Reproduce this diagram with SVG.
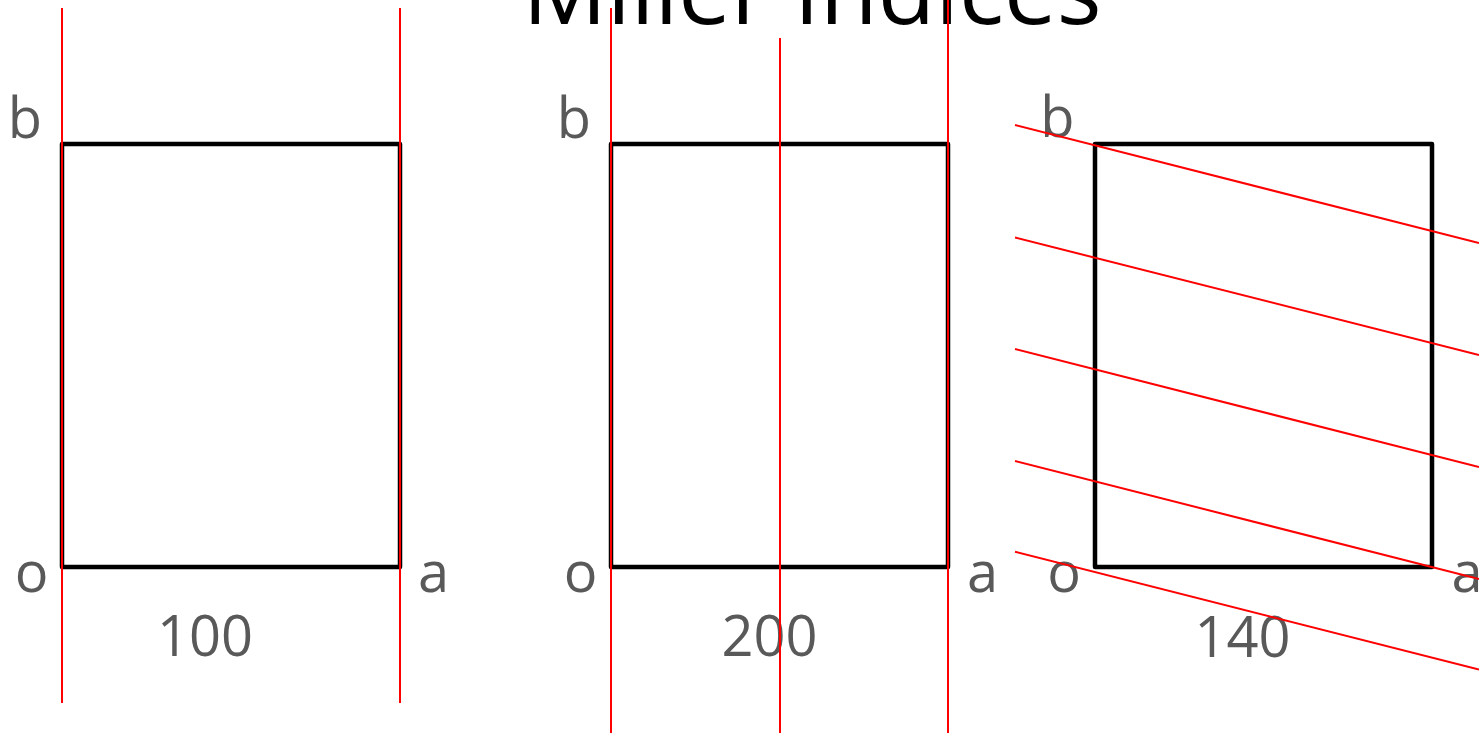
<svg xmlns="http://www.w3.org/2000/svg" width="1479" height="733" viewBox="0 0 1479 733">
<style>
.box{fill:none;stroke:#000;stroke-width:4.5;stroke-linejoin:round}
.red{stroke:#ff0000;stroke-width:2;fill:none}
.lbl{font-family:"Open Sans","Liberation Sans",sans-serif;font-size:56px;fill:#595959;text-anchor:middle}
.title{font-family:"Open Sans","Liberation Sans",sans-serif;font-size:94px;fill:#000;text-anchor:middle}
</style>
<rect width="1479" height="733" fill="#fff"/>
<text class="title" x="812" y="24">Miller Indices</text>
<g id="cell1">
<rect class="box" x="62" y="144" width="338" height="423"/>
<text class="lbl" x="25" y="138">b</text>
<text class="lbl" x="31.5" y="592">o</text>
<text class="lbl" x="433.5" y="592">a</text>
<text class="lbl" x="205" y="656">100</text>
</g>
<g id="cell2">
<rect class="box" x="611" y="144" width="337" height="423"/>
<text class="lbl" x="574" y="138">b</text>
<text class="lbl" x="580.5" y="592">o</text>
<text class="lbl" x="982.5" y="592">a</text>
<text class="lbl" x="769.5" y="656">200</text>
</g>
<g id="cell3">
<rect class="box" x="1095" y="144" width="337" height="423"/>
<text class="lbl" x="1057.5" y="137">b</text>
<text class="lbl" x="1064" y="592">o</text>
<text class="lbl" x="1467" y="592">a</text>
<text class="lbl" x="1242.5" y="657">140</text>
</g>
<g id="planes">
<line class="red" x1="62" y1="8" x2="62" y2="703"/>
<line class="red" x1="400" y1="8" x2="400" y2="703"/>
<line class="red" x1="611" y1="8" x2="611" y2="733"/>
<line class="red" x1="780" y1="38" x2="780" y2="733"/>
<line class="red" x1="948" y1="0" x2="948" y2="733"/>
<line class="red" x1="1015" y1="125" x2="1479" y2="243"/>
<line class="red" x1="1015" y1="237.5" x2="1479" y2="355"/>
<line class="red" x1="1015" y1="349" x2="1479" y2="467"/>
<line class="red" x1="1015" y1="461" x2="1479" y2="579"/>
<line class="red" x1="1015" y1="551.7" x2="1479" y2="669.5"/>
</g>
</svg>
